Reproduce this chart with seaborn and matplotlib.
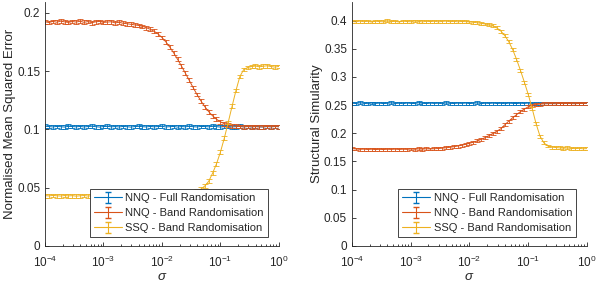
import numpy as np
import pandas as pd
import matplotlib
matplotlib.use('Agg')
import matplotlib.pyplot as plt
import seaborn as sns
from matplotlib.ticker import FuncFormatter, LogLocator

# sigma grid (15 samples per decade, 1e-4 .. 1e0)
sigma = np.logspace(-4, 0, 61)

labels = ['NNQ - Full Randomisation', 'NNQ - Band Randomisation', 'SSQ - Band Randomisation']
colours = ['#0072BD', '#D95319', '#EDB120']

# Normalised mean squared error
mse_nnq_full = [0.1028, 0.1025, 0.1022, 0.1026, 0.1024, 0.1021, 0.1027, 0.1025, 0.1023, 0.1026,
                0.1022, 0.1025, 0.1028, 0.1024, 0.1021, 0.1025, 0.1027, 0.1023, 0.1025, 0.1022,
                0.1026, 0.1024, 0.1021, 0.1025, 0.1027, 0.1024, 0.1022, 0.1026, 0.1023, 0.1025,
                0.1027, 0.1022, 0.1024, 0.1026, 0.1021, 0.1025, 0.1023, 0.1027, 0.1024, 0.1022,
                0.1026, 0.1025, 0.1023, 0.1027, 0.1024, 0.1021, 0.1025, 0.1026, 0.1022, 0.1024,
                0.1027, 0.1023, 0.1025, 0.1022, 0.1026, 0.1024, 0.1021, 0.1025, 0.1023, 0.1026, 0.1024]
mse_nnq_band = [0.1925, 0.1918, 0.1928, 0.1921, 0.1930, 0.1924, 0.1919, 0.1927, 0.1922, 0.1929,
                0.1920, 0.1926, 0.1917, 0.1924, 0.1928, 0.1919, 0.1922, 0.1925, 0.1915, 0.1920,
                0.1912, 0.1908, 0.1903, 0.1898, 0.1893, 0.1885, 0.1874, 0.1860, 0.1843, 0.1820,
                0.1790, 0.1752, 0.1708, 0.1658, 0.1603, 0.1545, 0.1484, 0.1422, 0.1360, 0.1300,
                0.1245, 0.1196, 0.1153, 0.1117, 0.1088, 0.1066, 0.1050, 0.1039, 0.1032, 0.1028,
                0.1025, 0.1022, 0.1026, 0.1023, 0.1025, 0.1021, 0.1024, 0.1026, 0.1023, 0.1025, 0.1024]
mse_ssq_band = [0.0432, 0.0430, 0.0434, 0.0431, 0.0429, 0.0433, 0.0430, 0.0432, 0.0428, 0.0431,
                0.0433, 0.0429, 0.0431, 0.0430, 0.0432, 0.0428, 0.0430, 0.0433, 0.0429, 0.0431,
                0.0430, 0.0428, 0.0432, 0.0429, 0.0431, 0.0430, 0.0428, 0.0431, 0.0429, 0.0430,
                0.0429, 0.0431, 0.0430, 0.0432, 0.0434, 0.0437, 0.0442, 0.0449, 0.0458, 0.0470,
                0.0488, 0.0515, 0.0555, 0.0625, 0.0705, 0.0805, 0.0925, 0.1060, 0.1200, 0.1335,
                0.1455, 0.1515, 0.1532, 0.1540, 0.1545, 0.1538, 0.1543, 0.1547, 0.1540, 0.1536, 0.1541]

# Structural similarity
ssim_nnq_full = [0.2535, 0.2528, 0.2541, 0.2532, 0.2526, 0.2538, 0.2530, 0.2536, 0.2527, 0.2533,
                 0.2540, 0.2529, 0.2534, 0.2525, 0.2537, 0.2531, 0.2528, 0.2542, 0.2533, 0.2527,
                 0.2536, 0.2530, 0.2534, 0.2526, 0.2539, 0.2532, 0.2529, 0.2535, 0.2531, 0.2537,
                 0.2528, 0.2533, 0.2540, 0.2527, 0.2534, 0.2530, 0.2536, 0.2529, 0.2533, 0.2526,
                 0.2535, 0.2531, 0.2528, 0.2534, 0.2530, 0.2537, 0.2527, 0.2532, 0.2529, 0.2535,
                 0.2531, 0.2526, 0.2534, 0.2529, 0.2533, 0.2527, 0.2535, 0.2530, 0.2528, 0.2534, 0.2531]
ssim_nnq_band = [0.1728, 0.1722, 0.1716, 0.1719, 0.1713, 0.1718, 0.1711, 0.1716, 0.1712, 0.1717,
                 0.1714, 0.1719, 0.1713, 0.1718, 0.1715, 0.1721, 0.1717, 0.1723, 0.1719, 0.1725,
                 0.1722, 0.1726, 0.1730, 0.1736, 0.1743, 0.1752, 0.1762, 0.1774, 0.1788, 0.1804,
                 0.1822, 0.1843, 0.1866, 0.1893, 0.1925, 0.1960, 0.1998, 0.2038, 0.2080, 0.2150,
                 0.2215, 0.2275, 0.2330, 0.2385, 0.2430, 0.2470, 0.2495, 0.2510, 0.2518, 0.2522,
                 0.2525, 0.2528, 0.2523, 0.2530, 0.2526, 0.2532, 0.2527, 0.2524, 0.2531, 0.2528, 0.2533]
ssim_ssq_band = [0.3985, 0.3978, 0.3992, 0.3981, 0.3988, 0.3975, 0.3990, 0.3983, 0.3979, 0.3994,
                 0.3982, 0.3987, 0.3976, 0.3991, 0.3984, 0.3980, 0.3993, 0.3986, 0.3977, 0.3989,
                 0.3983, 0.3990, 0.3978, 0.3986, 0.3992, 0.3981, 0.3987, 0.3979, 0.3985, 0.3982,
                 0.3976, 0.3970, 0.3962, 0.3951, 0.3940, 0.3925, 0.3910, 0.3870, 0.3815, 0.3735,
                 0.3630, 0.3490, 0.3315, 0.3120, 0.2910, 0.2690, 0.2440, 0.2170, 0.1950, 0.1830,
                 0.1775, 0.1755, 0.1748, 0.1742, 0.1736, 0.1740, 0.1731, 0.1728, 0.1733, 0.1725, 0.1729]

mse_err = [0.0016, 0.0016, 0.0016]
ssim_err = [0.0026, 0.0026, 0.0026]

sns.set_style('ticks')
plt.rcParams['font.family'] = ['Liberation Sans', 'DejaVu Sans']
plt.rcParams['mathtext.fontset'] = 'custom'
plt.rcParams['mathtext.rm'] = 'Liberation Sans'
plt.rcParams['mathtext.it'] = 'Liberation Sans:italic'
ink = '#262626'


def long_table(series, errs):
    # two rows per point (value - err, value + err) so that the 100% interval is +/- err
    rows = []
    for name, vals, e in zip(labels, series, errs):
        for s, v in zip(sigma, vals):
            rows.append((name, s, v - e))
            rows.append((name, s, v + e))
    return pd.DataFrame(rows, columns=['method', 'sigma', 'value'])


def draw(ax, series, errs, ylabel, ymax, yticks):
    ax.set_xscale('log')
    df = long_table(series, errs)
    sns.lineplot(data=df, x='sigma', y='value', hue='method', hue_order=labels,
                 palette=colours, estimator='mean', errorbar=('pi', 100),
                 err_style='bars', linewidth=0.7, legend=False, ax=ax,
                 err_kws={'capsize': 2, 'elinewidth': 0.6, 'capthick': 0.6})
    ax.set_xlim(1e-4, 1)
    ax.set_ylim(0, ymax)
    ax.set_yticks(yticks)
    ax.yaxis.set_major_formatter(FuncFormatter(lambda v, p: f'{v:g}'))
    ax.set_xticks([1e-4, 1e-3, 1e-2, 1e-1, 1])
    ax.xaxis.set_minor_locator(LogLocator(base=10, subs=np.arange(2, 10)))
    ax.set_xlabel(r'$\sigma$', fontsize=9.5, color=ink, labelpad=1)
    ax.set_ylabel(ylabel, fontsize=9.5, color=ink, labelpad=1)
    ax.tick_params(which='both', direction='in', colors=ink, labelsize=8.5, width=0.6)
    ax.tick_params(which='major', length=3)
    ax.tick_params(which='minor', length=1.8)
    ax.tick_params(axis='x', pad=6)
    sns.despine(ax=ax)
    for sp in ['left', 'bottom']:
        ax.spines[sp].set_color(ink)
        ax.spines[sp].set_linewidth(0.6)
    handles = [ax.errorbar([np.nan], [np.nan], yerr=[np.nan], color=c, lw=0.8,
                           capsize=2.5, elinewidth=0.8, label=l)
               for c, l in zip(colours, labels)]
    leg = ax.legend(handles=handles, loc='lower right', bbox_to_anchor=(0.953, 0.037),
                    borderaxespad=0, fontsize=8, frameon=True, fancybox=False,
                    handlelength=2.5, handletextpad=0.35, labelspacing=0.45,
                    borderpad=0.35)
    leg.get_frame().set_edgecolor(ink)
    leg.get_frame().set_linewidth(0.6)
    leg.get_frame().set_alpha(1)
    for t in leg.get_texts():
        t.set_color(ink)


fig = plt.figure(figsize=(5.98, 2.86), dpi=100)
ax1 = fig.add_axes([0.0753, 0.1399, 0.391, 0.853])
ax2 = fig.add_axes([0.5886, 0.1399, 0.393, 0.853])

draw(ax1, [mse_nnq_full, mse_nnq_band, mse_ssq_band], mse_err,
     'Normalised Mean Squared Error', 0.2094, [0, 0.05, 0.1, 0.15, 0.2])
draw(ax2, [ssim_nnq_full, ssim_nnq_band, ssim_ssq_band], ssim_err,
     'Structural Simularity', 0.433, [0, 0.05, 0.1, 0.15, 0.2, 0.25, 0.3, 0.35, 0.4])

fig.savefig('out.png', dpi=100)
